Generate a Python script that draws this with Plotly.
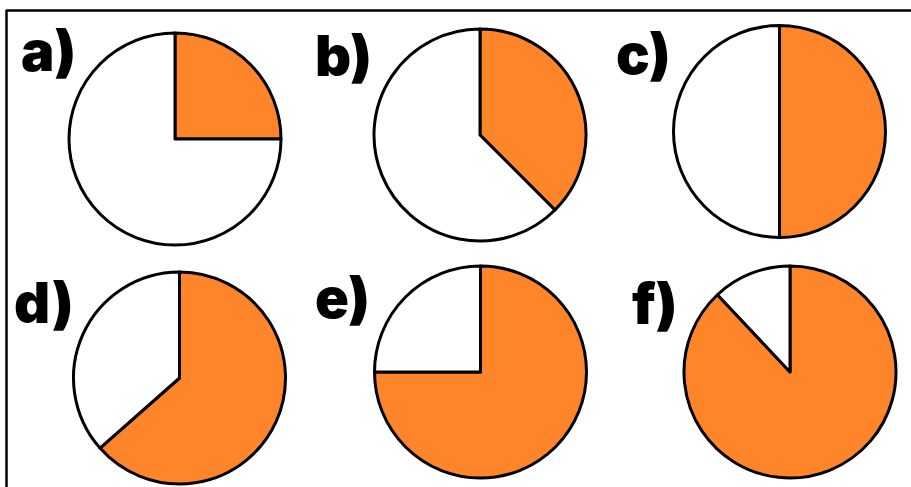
import plotly.graph_objects as go

labels = ["a)", "b)", "c)", "d)", "e)", "f)"]
shaded = [0.25, 0.375, 0.5, 0.635, 0.75, 0.88]
unshaded = [1 - v for v in shaded]
slice_names = ["Shaded", "Unshaded"]
colors = ["#FF852B", "#FFFFFF"]

W, H = 911, 487
# pie centers (px) and radius
centers = [(175, 139), (480, 135), (779.5, 131.5), (179.5, 378), (480.5, 372), (790, 372)]
radius = 106
label_pos = [(48, 51), (343, 56), (643, 54), (44, 303), (342, 298), (654, 304)]

fig = go.Figure()
for i, lab in enumerate(labels):
    cx, cy = centers[i]
    fig.add_trace(go.Pie(
        labels=slice_names,
        values=[shaded[i], unshaded[i]],
        sort=False,
        direction="clockwise",
        rotation=0,
        marker=dict(colors=colors, line=dict(color="black", width=3)),
        textinfo="none",
        hoverinfo="label+percent",
        showlegend=False,
        domain=dict(x=[(cx - radius) / W, (cx + radius) / W],
                    y=[(H - cy - radius) / H, (H - cy + radius) / H]),
    ))
    lx, ly = label_pos[i]
    fig.add_annotation(text=lab, x=lx / W, y=1 - ly / H, xref="paper", yref="paper",
                       xanchor="center", yanchor="middle", showarrow=False,
                       font=dict(family="Inter", size=56, color="black", weight=900))

fig.add_shape(type="line", xref="paper", yref="paper", x0=6 / W, x1=1, y0=1 - 10.5 / H, y1=1 - 10.5 / H,
              line=dict(color="black", width=2.5))
fig.add_shape(type="line", xref="paper", yref="paper", x0=6.5 / W, x1=6.5 / W, y0=0, y1=1 - 10 / H,
              line=dict(color="black", width=2.5))

fig.update_layout(width=W, height=H, margin=dict(l=0, r=0, t=0, b=0),
                  paper_bgcolor="white", plot_bgcolor="white")
fig.write_html("out.html", config={"displayModeBar": False},
               post_script="document.body.style.margin='0';document.body.style.overflow='hidden';")
